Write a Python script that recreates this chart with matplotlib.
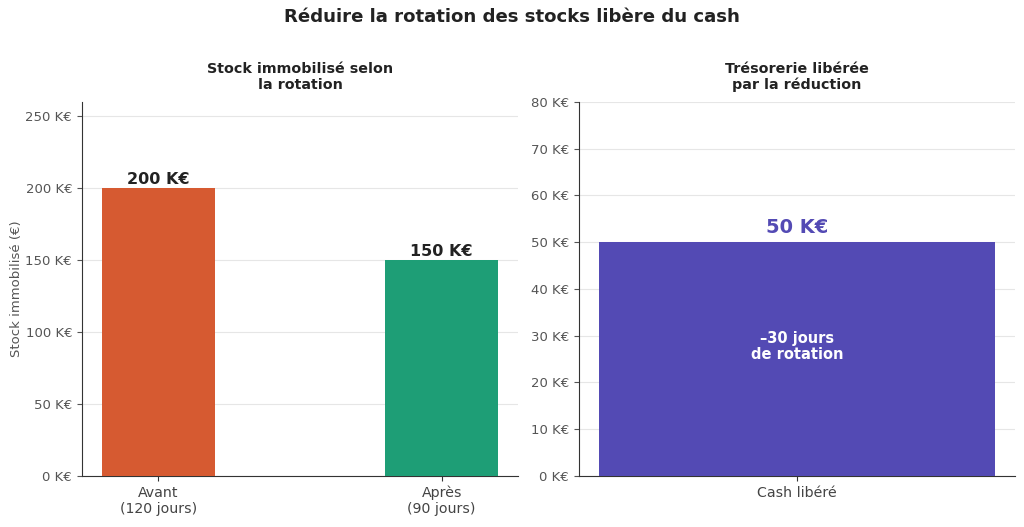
import numpy as np
import matplotlib.pyplot as plt

# données
categories = ['Avant\n(120 jours)', 'Après\n(90 jours)']
stock_values = [200, 150]
stock_labels = ['200 K€', '150 K€']
cash_category = ['Cash libéré']
cash_values = [50]

c_avant = '#D65A31'
c_apres = '#1E9E76'
c_cash = '#534AB4'
grey = '#555555'

plt.rcParams['font.family'] = 'DejaVu Sans'

fig = plt.figure(figsize=(10.24, 5.27), dpi=100)
ax1 = fig.add_axes([0.080, 0.0968, 0.426, 0.7097])
ax2 = fig.add_axes([0.5654, 0.0968, 0.4258, 0.7097])

fig.suptitle('Réduire la rotation des stocks libère du cash', fontsize=13.1,
             fontweight='bold', color='#222222', y=0.968, va='center')

# 1. stock immobilisé
x = np.arange(len(categories))
bars = ax1.bar(x, stock_values, width=0.4, color=[c_avant, c_apres], zorder=3)
for b, lab in zip(bars, stock_labels):
    ax1.annotate(lab, (b.get_x() + b.get_width() / 2, b.get_height()),
                 xytext=(0, 1), textcoords='offset points', ha='center',
                 va='bottom', fontsize=11.5, fontweight='bold', color='#222222')
ax1.set_xticks(x)
ax1.set_xticklabels(categories)
ax1.set_ylim(0, 260)
ax1.set_yticks([0, 50, 100, 150, 200, 250])
ax1.set_yticklabels([f'{v} K€' for v in [0, 50, 100, 150, 200, 250]])
ax1.set_ylabel('Stock immobilisé (€)', fontsize=9.5, color=grey, labelpad=2)
ax1.set_title('Stock immobilisé selon\nla rotation', fontsize=10.3,
              fontweight='bold', color='#222222', pad=9)

# 2. cash libéré
bars2 = ax2.bar([0], cash_values, width=0.5, color=c_cash, zorder=3)
ax2.annotate(f'{cash_values[0]} K€', (0, cash_values[0]), xytext=(0, 4),
             textcoords='offset points', ha='center', va='bottom',
             fontsize=14, fontweight='bold', color=c_cash)
ax2.text(0, cash_values[0] * 0.555, '–30 jours\nde rotation', ha='center',
         va='center', fontsize=10.5, fontweight='bold', color='white',
         linespacing=1.1, zorder=4)
ax2.set_xticks([0])
ax2.set_xticklabels(cash_category)
ax2.set_ylim(0, 80)
ax2.set_yticks(range(0, 81, 10))
ax2.set_yticklabels([f'{v} K€' for v in range(0, 81, 10)])
ax2.set_title('Trésorerie libérée\npar la réduction', fontsize=10.3,
              fontweight='bold', color='#222222', pad=9)

for ax in (ax1, ax2):
    ax.spines['top'].set_visible(False)
    ax.spines['right'].set_visible(False)
    ax.spines['left'].set_color('#333333')
    ax.spines['bottom'].set_color('#333333')
    ax.yaxis.grid(True, color='#e6e6e6', linewidth=0.8, zorder=0)
    ax.set_axisbelow(True)
    ax.tick_params(axis='y', labelsize=9.5, colors=grey, labelcolor=grey)
    ax.tick_params(axis='x', labelsize=10.2, colors='#333333', labelcolor='#444444')

plt.savefig('out.png', dpi=100)
